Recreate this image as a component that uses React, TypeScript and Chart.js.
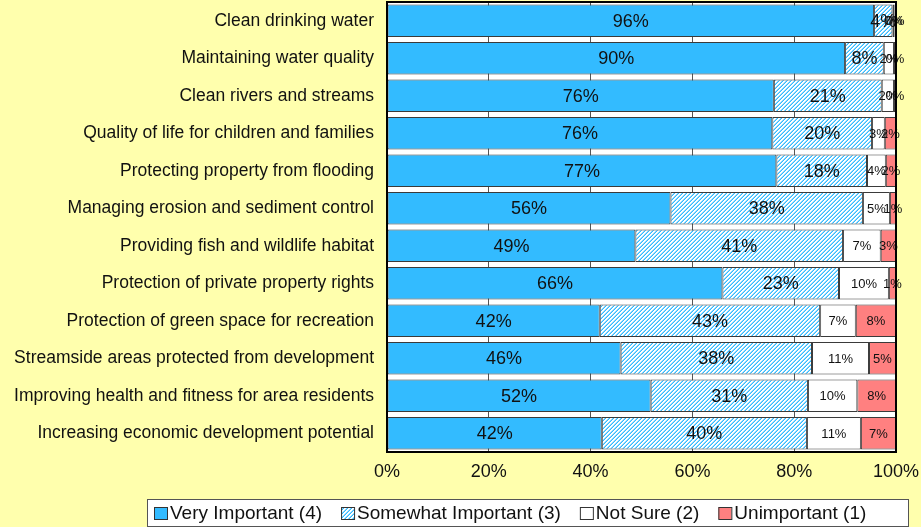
import React, { useEffect, useRef } from "react";
import { Chart, registerables } from "chart.js";

Chart.register(...registerables);

const categories = [
  "Clean drinking water",
  "Maintaining water quality",
  "Clean rivers and streams",
  "Quality of life for children and families",
  "Protecting property from flooding",
  "Managing erosion and sediment control",
  "Providing fish and wildlife habitat",
  "Protection of private property rights",
  "Protection of green space for recreation",
  "Streamside areas protected from development",
  "Improving health and fitness for area residents",
  "Increasing economic development potential",
];

const veryImportant = [95.7, 90.0, 76.0, 75.7, 76.5, 55.7, 48.8, 65.9, 41.8, 45.9, 51.8, 42.2];
const somewhatImportant = [3.6, 7.6, 21.2, 19.6, 17.8, 37.8, 40.8, 22.9, 43.3, 37.6, 30.9, 40.3];
const notSure = [0.4, 2.0, 2.4, 2.5, 3.7, 5.3, 7.4, 9.8, 7.0, 11.2, 9.7, 10.6];
const unimportant = [0.3, 0.4, 0.4, 2.2, 2.0, 1.2, 3.0, 1.4, 7.9, 5.3, 7.6, 6.9];

const seriesNames = [
  "Very Important (4)",
  "Somewhat Important (3)",
  "Not Sure (2)",
  "Unimportant (1)",
];

const xTicks = [0, 20, 40, 60, 80, 100];

const FONT = "'Liberation Sans', Arial, sans-serif";
const PAGE_BG = "#FFFFAD";
const BLUE = "#33BBFF";
const PINK = "#FF8080";

function makeHatch(): CanvasPattern | string {
  const tile = document.createElement("canvas");
  tile.width = 4;
  tile.height = 4;
  const c = tile.getContext("2d");
  if (!c) return BLUE;
  c.fillStyle = "#ffffff";
  c.fillRect(0, 0, 4, 4);
  c.fillStyle = BLUE;
  [[3, 0], [2, 1], [1, 2], [0, 3]].forEach(([x, y]) => c.fillRect(x, y, 1, 1));
  c.fillStyle = "#8FD8FF";
  [[2, 0], [1, 1], [0, 2], [3, 3]].forEach(([x, y]) => c.fillRect(x, y, 1, 1));
  const p = c.createPattern(tile, "repeat");
  return p || BLUE;
}

export default function App() {
  const ref = useRef<HTMLCanvasElement | null>(null);

  useEffect(() => {
    document.body.style.margin = "0";
    document.body.style.background = PAGE_BG;
    const canvas = ref.current;
    if (!canvas) return;
    const hatch = makeHatch();

    const bgPlugin = {
      id: "bgPlugin",
      beforeDraw(chart: any) {
        const { ctx, chartArea } = chart;
        ctx.save();
        ctx.fillStyle = PAGE_BG;
        ctx.fillRect(0, 0, chart.width, chart.height);
        ctx.fillStyle = "#ffffff";
        ctx.fillRect(chartArea.left, chartArea.top, chartArea.right - chartArea.left, chartArea.bottom - chartArea.top);
        ctx.restore();
      },
    };

    const labelPlugin = {
      id: "labelPlugin",
      afterDatasetsDraw(chart: any) {
        const { ctx } = chart;
        ctx.save();
        ctx.textAlign = "center";
        ctx.textBaseline = "middle";
        ctx.fillStyle = "#111";
        chart.data.datasets.forEach((ds: any, di: number) => {
          const meta = chart.getDatasetMeta(di);
          ctx.font = (di < 2 ? "18px " : "13px ") + FONT;
          meta.data.forEach((el: any, i: number) => {
            const { x, base, y } = el.getProps(["x", "base", "y"], true);
            const v = ds.data[i];
            ctx.fillText(Math.round(v) + "%", (x + base) / 2, y + 1);
          });
        });
        const a = chart.chartArea;
        ctx.strokeStyle = "#000";
        ctx.lineWidth = 2;
        ctx.strokeRect(a.left, a.top, a.right - a.left, a.bottom - a.top);
        ctx.restore();
      },
    };

    const legendPlugin = {
      id: "customLegend",
      afterDraw(chart: any) {
        const { ctx } = chart;
        ctx.save();
        const boxL = 147, boxT = 499, boxR = 908, boxB = 526;
        ctx.fillStyle = "#ffffff";
        ctx.fillRect(boxL, boxT, boxR - boxL, boxB - boxT);
        ctx.strokeStyle = "#555";
        ctx.lineWidth = 1;
        ctx.strokeRect(boxL + 0.5, boxT + 0.5, boxR - boxL, boxB - boxT);
        ctx.font = "19px " + FONT;
        ctx.textBaseline = "middle";
        ctx.textAlign = "left";
        let x = 154;
        const cy = 513;
        chart.data.datasets.forEach((ds: any) => {
          ctx.fillStyle = ds.backgroundColor;
          ctx.fillRect(x, cy - 6, 13, 12);
          ctx.strokeStyle = "#333";
          ctx.strokeRect(x + 0.5, cy - 5.5, 13, 12);
          ctx.fillStyle = "#111";
          ctx.fillText(ds.label, x + 16, cy + 1);
          x += 16 + ctx.measureText(ds.label).width + 19;
        });
        ctx.restore();
      },
    };

    const mk = (label: string, data: number[], bg: any) => ({
      label,
      data,
      backgroundColor: bg,
      borderColor: "#3a3a3a",
      borderWidth: 1,
      borderSkipped: false,
      barPercentage: 0.87,
      categoryPercentage: 1,
    });

    const chart = new Chart(canvas, {
      type: "bar",
      data: {
        labels: categories,
        datasets: [
          mk(seriesNames[0], veryImportant, BLUE),
          mk(seriesNames[1], somewhatImportant, hatch),
          mk(seriesNames[2], notSure, "#ffffff"),
          mk(seriesNames[3], unimportant, PINK),
        ],
      },
      options: {
        indexAxis: "y",
        responsive: false,
        animation: false,
        layout: { padding: { top: 2, right: 25, left: 0, bottom: 0 } },
        plugins: {
          legend: { display: false },
          tooltip: { enabled: false },
        },
        scales: {
          x: {
            stacked: true,
            min: 0,
            max: 100,
            afterBuildTicks(scale: any) {
              scale.ticks = xTicks.map((v) => ({ value: v }));
            },
            afterFit(scale: any) {
              scale.height = 75;
              scale.paddingLeft = 0;
              scale.paddingRight = 0;
            },
            grid: { color: "#555", lineWidth: 1, drawTicks: false },
            border: { display: false },
            ticks: {
              padding: 9,
              color: "#111",
              font: { family: FONT, size: 18 },
              maxRotation: 0,
              callback: (v: any) => v + "%",
            },
          },
          y: {
            stacked: true,
            afterFit(scale: any) {
              scale.width = 387;
              scale.paddingTop = 0;
              scale.paddingBottom = 0;
            },
            grid: { display: false, drawTicks: false },
            border: { display: false },
            ticks: {
              padding: 13,
              color: "#111",
              font: { family: FONT, size: 17.5 },
              autoSkip: false,
            },
          },
        },
      } as any,
      plugins: [bgPlugin, labelPlugin, legendPlugin],
    });
    return () => chart.destroy();
  }, []);

  return <canvas ref={ref} width={921} height={527} style={{ display: "block" }} />;
}
